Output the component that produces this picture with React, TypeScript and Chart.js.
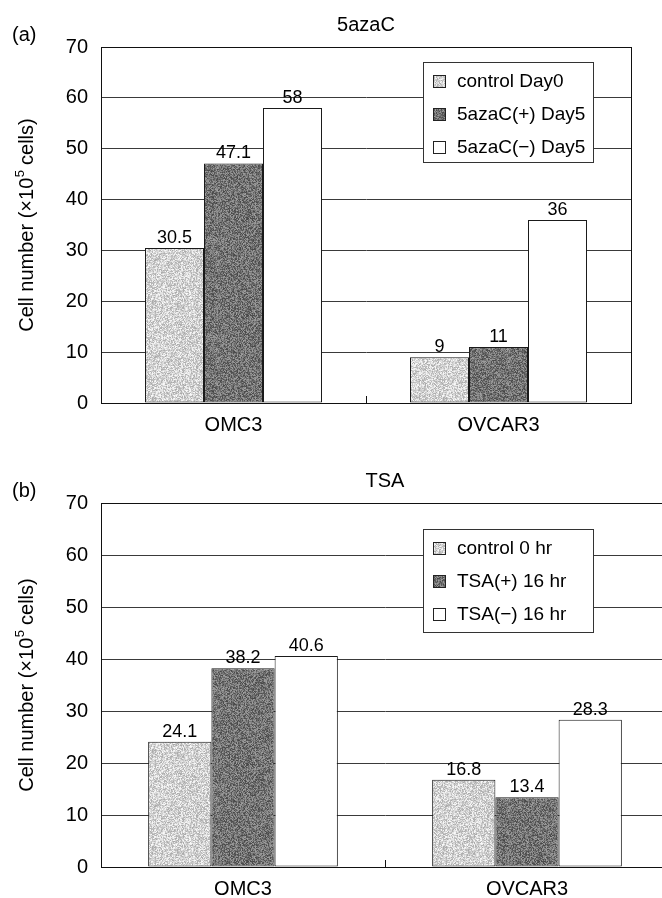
import React, { useEffect, useRef } from "react";
import { Chart, registerables } from "chart.js";

Chart.register(...registerables);

// ---------- data ----------
const categories = ["OMC3", "OVCAR3"];

const azaTitle = "5azaC";
const azaLegend = ["control Day0", "5azaC(+) Day5", "5azaC(\u2212) Day5"];
const azaControl = [30.5, 9];
const azaPlus = [47.1, 11];
const azaMinus = [58, 36];

const tsaTitle = "TSA";
const tsaLegend = ["control 0 hr", "TSA(+) 16 hr", "TSA(\u2212) 16 hr"];
const tsaControl = [24.1, 16.8];
const tsaPlus = [38.2, 13.4];
const tsaMinus = [40.6, 28.3];

const yMin = 0;
const yMax = 70;
const yStep = 10;

const FONT = "'Liberation Sans', Arial, Helvetica, sans-serif";

function makeNoise(lo: number, hi: number, seed: number): CanvasPattern | string {
  const size = 97;
  const c = document.createElement("canvas");
  c.width = size;
  c.height = size;
  const ctx = c.getContext("2d");
  if (!ctx) return "#999";
  const img = ctx.createImageData(size, size);
  let s = seed;
  for (let i = 0; i < size * size; i++) {
    s = (s * 1103515245 + 12345) & 0x7fffffff;
    const r = (s >> 8) % (hi - lo + 1);
    const v = lo + r;
    img.data[i * 4] = v;
    img.data[i * 4 + 1] = v;
    img.data[i * 4 + 2] = v;
    img.data[i * 4 + 3] = 255;
  }
  ctx.putImageData(img, 0, 0);
  const p = ctx.createPattern(c, "repeat");
  return p || "#999";
}

type PanelCfg = {
  letter: string;
  title: string;
  legend: string[];
  legendBox: { x: number; y: number; w: number; h: number };
};

function makeDecorPlugin(cfg: PanelCfg) {
  return {
    id: "decor" + cfg.letter,
    afterDatasetsDraw(chart: any) {
      const ctx = chart.ctx;
      ctx.save();
      ctx.fillStyle = "#000";
      ctx.font = `18px ${FONT}`;
      ctx.textAlign = "center";
      ctx.textBaseline = "bottom";
      chart.data.datasets.forEach((ds: any, di: number) => {
        const meta = chart.getDatasetMeta(di);
        meta.data.forEach((bar: any, i: number) => {
          const v = ds.data[i];
          ctx.fillText(String(v), bar.x, bar.y - 1);
        });
      });
      ctx.restore();
    },
    afterDraw(chart: any) {
      const ctx = chart.ctx;
      const ca = chart.chartArea;
      const xs = chart.scales.x;
      ctx.save();
      // frame
      ctx.strokeStyle = "#111";
      ctx.lineWidth = 1;
      ctx.strokeRect(
        Math.round(ca.left) + 0.5,
        Math.round(ca.top) + 0.5,
        Math.round(ca.right - ca.left),
        Math.round(ca.bottom - ca.top)
      );
      // inner category separator tick
      const mx = Math.round(xs.getPixelForValue(0.5)) + 0.5;
      ctx.beginPath();
      ctx.moveTo(mx, ca.bottom);
      ctx.lineTo(mx, ca.bottom - 7);
      ctx.stroke();

      // title
      ctx.fillStyle = "#000";
      ctx.font = `20px ${FONT}`;
      ctx.textAlign = "center";
      ctx.textBaseline = "middle";
      ctx.fillText(cfg.title, (ca.left + ca.right) / 2, ca.top - 22);
      // panel letter
      ctx.textAlign = "left";
      ctx.fillText(cfg.letter, 12, ca.top - 12);

      // y axis title with superscript
      const cy = (ca.top + ca.bottom) / 2;
      const p1 = "Cell number (\u00d710";
      const p2 = "5";
      const p3 = " cells)";
      ctx.font = `20px ${FONT}`;
      const w1 = ctx.measureText(p1).width;
      const w3 = ctx.measureText(p3).width;
      ctx.font = `13px ${FONT}`;
      const w2 = ctx.measureText(p2).width;
      const total = w1 + w2 + w3;
      ctx.translate(27, cy);
      ctx.rotate(-Math.PI / 2);
      ctx.textAlign = "left";
      ctx.textBaseline = "middle";
      const x0 = -total / 2;
      ctx.font = `20px ${FONT}`;
      ctx.fillText(p1, x0, 0);
      ctx.font = `13px ${FONT}`;
      ctx.fillText(p2, x0 + w1 + 0.5, -7);
      ctx.font = `20px ${FONT}`;
      ctx.fillText(p3, x0 + w1 + w2, 0);
      ctx.setTransform(1, 0, 0, 1, 0, 0);

      // legend box
      const lb = cfg.legendBox;
      ctx.fillStyle = "#fff";
      ctx.fillRect(lb.x, lb.y, lb.w, lb.h);
      ctx.strokeStyle = "#333";
      ctx.lineWidth = 1;
      ctx.strokeRect(lb.x + 0.5, lb.y + 0.5, lb.w, lb.h);
      const rows = [20, 53, 86];
      chart.data.datasets.forEach((ds: any, di: number) => {
        const yy = lb.y + rows[di];
        ctx.fillStyle = ds.backgroundColor;
        ctx.fillRect(lb.x + 10, yy - 7, 13, 13);
        ctx.strokeStyle = "#222";
        ctx.strokeRect(lb.x + 10.5, yy - 6.5, 12, 12);
        ctx.fillStyle = "#000";
        ctx.font = `19px ${FONT}`;
        ctx.textAlign = "left";
        ctx.textBaseline = "middle";
        ctx.fillText(cfg.legend[di], lb.x + 34, yy);
      });
      ctx.restore();
    },
  };
}

function buildChart(
  canvas: HTMLCanvasElement,
  cfg: PanelCfg,
  series: number[][],
  pad: { top: number; right: number },
  xHeight: number,
  lightFill: any,
  darkFill: any
) {
  const fills = [lightFill, darkFill, "#ffffff"];
  return new Chart(canvas, {
    type: "bar",
    data: {
      labels: categories,
      datasets: series.map((vals, i) => ({
        label: cfg.legend[i],
        data: vals,
        backgroundColor: fills[i],
        borderColor: "#1a1a1a",
        borderWidth: 1,
        borderSkipped: false,
        categoryPercentage: 0.668,
        barPercentage: 1.0,
      })),
    },
    options: {
      responsive: false,
      animation: false,
      devicePixelRatio: 1,
      layout: { padding: { left: 0, top: pad.top, right: pad.right, bottom: 0 } },
      plugins: {
        legend: { display: false },
        title: { display: false },
        tooltip: { enabled: false },
      },
      scales: {
        x: {
          type: "category",
          grid: { display: false, drawTicks: false },
          border: { display: true, color: "#111", width: 1 },
          ticks: {
            color: "#000",
            font: { family: FONT, size: 20 },
            padding: 10,
          },
          afterFit(scale: any) {
            scale.height = xHeight;
          },
        },
        y: {
          min: yMin,
          max: yMax,
          grid: { color: "#3a3a3a", lineWidth: 1, drawTicks: false },
          border: { display: true, color: "#111", width: 1 },
          ticks: {
            stepSize: yStep,
            color: "#000",
            font: { family: FONT, size: 20 },
            padding: 13,
          },
          afterFit(scale: any) {
            scale.width = 101;
          },
        },
      },
    },
    plugins: [makeDecorPlugin(cfg)],
  } as any);
}

export default function App() {
  const topRef = useRef<HTMLCanvasElement | null>(null);
  const botRef = useRef<HTMLCanvasElement | null>(null);

  useEffect(() => {
    if (!topRef.current || !botRef.current) return;
    const light = makeNoise(170, 250, 12345);
    const dark = makeNoise(70, 160, 67890);
    const c1 = buildChart(
      topRef.current,
      {
        letter: "(a)",
        title: azaTitle,
        legend: azaLegend,
        legendBox: { x: 423, y: 62, w: 170, h: 100 },
      },
      [azaControl, azaPlus, azaMinus],
      { top: 47, right: 662 - 631 },
      46,
      light,
      dark
    );
    const c2 = buildChart(
      botRef.current,
      {
        letter: "(b)",
        title: tsaTitle,
        legend: tsaLegend,
        legendBox: { x: 423, y: 80, w: 170, h: 103 },
      },
      [tsaControl, tsaPlus, tsaMinus],
      { top: 54, right: 690 - 669 },
      31,
      light,
      dark
    );
    return () => {
      c1.destroy();
      c2.destroy();
    };
  }, []);

  return (
    <div
      style={{
        position: "absolute",
        left: 0,
        top: 0,
        width: 662,
        height: 898,
        overflow: "hidden",
        background: "#fff",
      }}
    >
      <canvas ref={topRef} width={662} height={449} style={{ display: "block", width: 662, height: 449 }} />
      <canvas ref={botRef} width={690} height={449} style={{ display: "block", width: 690, height: 449 }} />
    </div>
  );
}
